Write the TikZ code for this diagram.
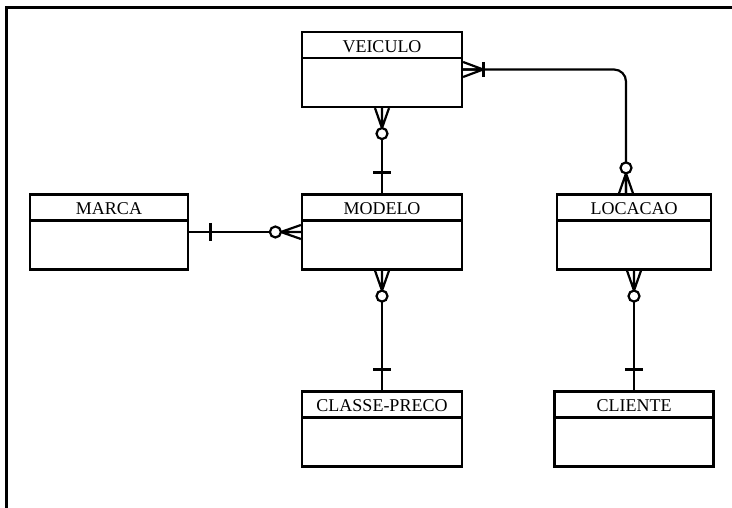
\documentclass[tikz,border=0pt]{standalone}
\usepackage{fontspec}
\setmainfont{Liberation Serif}
\usetikzlibrary{calc}
\def\zeromany[#1](#2){\begin{scope}[shift={(#2)},rotate=#1] \draw (0,7) -- (20,0) -- (0,-7) (0,0) -- (20,0); \draw[fill=white] (25.5,0) circle (5.5); \end{scope}}
\def\onemany[#1](#2){\begin{scope}[shift={(#2)},rotate=#1] \draw (0,7.5) -- (20,0) -- (0,-7.5) (0,0) -- (20,0); \draw[line width=3.2bp] (20,7.5) -- (20,-7.5); \end{scope}}
\def\onebar[#1](#2){\begin{scope}[shift={(#2)},rotate=#1] \draw[line width=3bp] (21,9) -- (21,-9); \end{scope}}
\tikzset{
	entity/.style={draw, inner sep=0pt, minimum width=159bp, minimum height=75bp,
		path picture={\draw[line width=2.2bp] ([yshift=-26bp]path picture bounding box.north west) -- ([yshift=-26bp]path picture bounding box.north east);}},
	title/.style={anchor=base, inner sep=0pt, font=\fontsize{18bp}{20bp}\selectfont},
}

\begin{document}
\begin{tikzpicture}[x=1bp, y=1bp, line width=2.2bp]
		%%%%% START %%%%%
		\useasboundingbox (0,0) rectangle (732,508);
		
		\draw[line width=3bp] (6.5,0) -- (6.5,500.5) -- (732,500.5);
		
		\node[entity, minimum width=160bp] (veiculo) at (382,438.5) {};
		\node[entity, minimum width=158bp] (marca) at (109,276) {};
		\node[entity, minimum width=160bp] (modelo) at (382,276) {};
		\node[entity, minimum width=154bp] (locacao) at (634,276) {};
		\node[entity, minimum width=160bp] (classe) at (382,79) {};
		\node[entity] (cliente) at (634,79) {};
		
		\node[title] (veiculoT) at ([yshift=-21.5bp]veiculo.north) {VEICULO};
		\node[title] (marcaT) at ([yshift=-21.5bp]marca.north) {MARCA};
		\node[title] (modeloT) at ([yshift=-21.5bp]modelo.north) {MODELO};
		\node[title] (locacaoT) at ([yshift=-21.5bp]locacao.north) {LOCACAO};
		\node[title] (classeT) at ([yshift=-21.5bp]classe.north) {CLASSE-PRECO};
		\node[title] (clienteT) at ([yshift=-21.5bp]cliente.north) {CLIENTE};
		
		\coordinate (locTop) at ([xshift=-8bp]locacao.north);
		
		\draw (veiculo.south) -- (modelo.north);
		\draw (marca.east) -- (modelo.west);
		\draw (modelo.south) -- (classe.north);
		\draw (locacao.south) -- (cliente.north);
		\draw[rounded corners=12bp] (veiculo.east) -| (locTop);
		
		\zeromany[-90](veiculo.south)
		\onebar[90](modelo.north)
		\onebar[0](marca.east)
		\zeromany[180](modelo.west)
		\zeromany[-90](modelo.south)
		\onebar[90](classe.north)
		\zeromany[-90](locacao.south)
		\onebar[90](cliente.north)
		\onemany[0](veiculo.east)
		\zeromany[90](locTop)
		
		%%%%% END %%%%%
	\end{tikzpicture}
\end{document}
